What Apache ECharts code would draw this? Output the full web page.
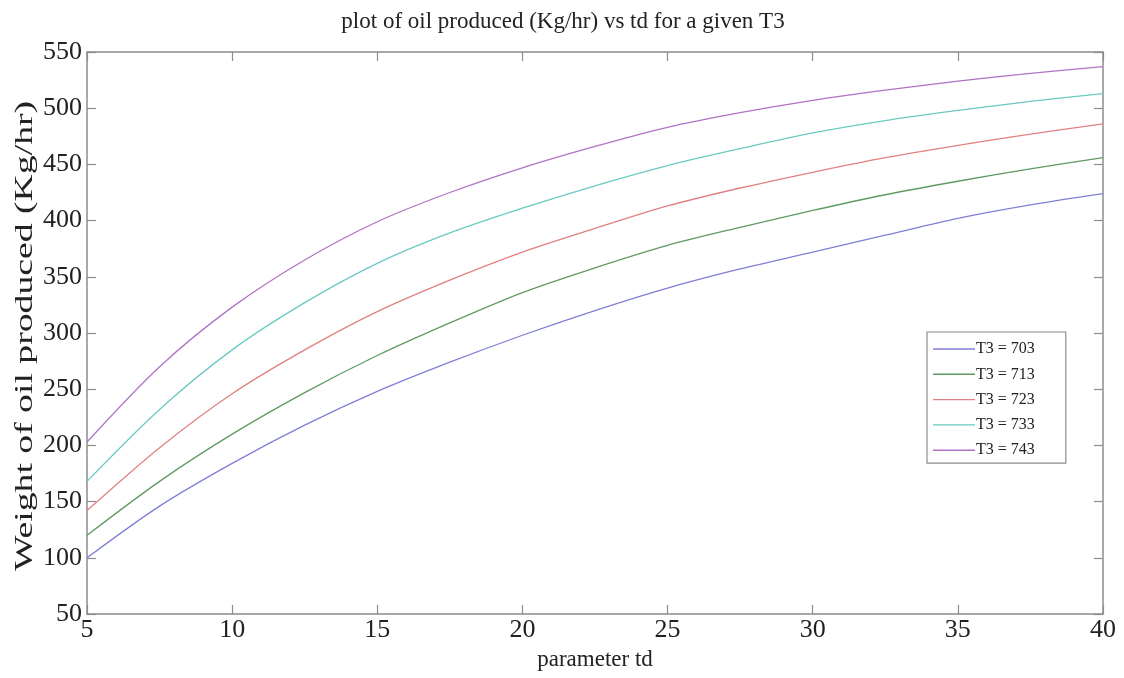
<!DOCTYPE html>
<html>
<head>
<meta charset="utf-8">
<script src="https://cdn.jsdelivr.net/npm/echarts@6/dist/echarts.min.js"></script>
<style>
  html, body { margin: 0; padding: 0; background: #fff; }
  #chart { width: 1124px; height: 678px; }
</style>
</head>
<body>
<div id="chart"></div>
<script>
// parameter td sample points
const td = [5, 7.5, 10, 12.5, 15, 17.5, 20, 22.5, 25, 27.5, 30, 32.5, 35, 37.5, 40];
// weight of oil produced (Kg/hr) for each T3
const oil703 = [100, 146, 184, 218, 248, 274, 298, 320, 340, 357, 372, 387, 402, 414, 424];
const oil713 = [120, 168, 210, 247, 280, 309, 336, 358, 378, 394, 409, 423, 435, 446, 456];
const oil723 = [142, 198, 246, 285, 319, 347, 372, 393, 413, 429, 443, 456, 467, 477, 486];
const oil733 = [168, 232, 285, 327, 362, 389, 411, 431, 449, 464, 478, 489, 498, 506, 513];
const oil743 = [203, 270, 323, 365, 399, 425, 447, 466, 483, 496, 507, 516, 524, 531, 537];
const seriesNames = ['T3 = 703', 'T3 = 713', 'T3 = 723', 'T3 = 733', 'T3 = 743'];
const seriesData = [oil703, oil713, oil723, oil733, oil743];
const colors = ['#7f7fd6', '#5f9a62', '#e08080', '#6cc9c2', '#b073c4'];

const serif = "'Liberation Serif', 'DejaVu Serif', serif";
const axisColor = '#8c8c8c';

function frameAxis(extra) {
  return Object.assign({
    type: 'value',
    axisLine: { show: true, lineStyle: { color: axisColor, width: 1.5 } },
    axisTick: { show: true, inside: true, length: 9, lineStyle: { color: axisColor, width: 1.2 } },
    splitLine: { show: false }
  }, extra);
}

const chart = echarts.init(document.getElementById('chart'));
chart.setOption({
  backgroundColor: '#fff',
  animation: false,
  title: {
    text: 'plot of oil produced (Kg/hr) vs td for a given T3',
    left: 558, top: 5, textAlign: 'center',
    textStyle: { fontFamily: serif, fontSize: 23, fontWeight: 'normal', color: '#222' }
  },
  grid: { left: 87, right: 21, top: 52, bottom: 64, containLabel: false },
  xAxis: [
    frameAxis({
      min: 5, max: 40, interval: 5, position: 'bottom',
      name: 'parameter td', nameLocation: 'middle', nameGap: 34,
      nameTextStyle: { fontFamily: serif, fontSize: 23, color: '#222' },
      axisLabel: { fontFamily: serif, fontSize: 26, color: '#222', margin: 3 }
    }),
    frameAxis({
      min: 5, max: 40, interval: 5, position: 'top',
      axisLabel: { show: false }
    })
  ],
  yAxis: [
    frameAxis({
      min: 50, max: 550, interval: 50, position: 'left',
      axisLabel: { fontFamily: serif, fontSize: 26, color: '#222', margin: 5 }
    }),
    frameAxis({
      min: 50, max: 550, interval: 50, position: 'right',
      axisLabel: { show: false }
    })
  ],
  // y axis title, drawn stretched along its length
  graphic: [{
    type: 'text',
    x: 25, y: 336,
    rotation: Math.PI / 2,
    scaleX: 1.45,
    style: {
      text: 'Weight of oil produced (Kg/hr)',
      font: "26px 'Liberation Serif', serif",
      fill: '#222',
      align: 'center',
      verticalAlign: 'middle'
    }
  }],
  legend: {
    orient: 'vertical',
    left: 927, top: 332,
    padding: [8, 31, 4, 6],
    icon: 'rect',
    itemWidth: 42, itemHeight: 1.4, itemGap: 7.3,
    backgroundColor: '#fff',
    borderColor: '#8c8c8c', borderWidth: 1.2,
    textStyle: { fontFamily: serif, fontSize: 16, lineHeight: 18, color: '#222', padding: [0, 0, 0, -4] },
    data: seriesNames
  },
  series: seriesNames.map((name, i) => ({
    name: name,
    type: 'line',
    smooth: 0.3,
    symbol: 'none',
    color: colors[i],
    lineStyle: { width: 1.3, color: colors[i] },
    data: td.map((t, j) => [t, seriesData[i][j]])
  }))
});
</script>
</body>
</html>
